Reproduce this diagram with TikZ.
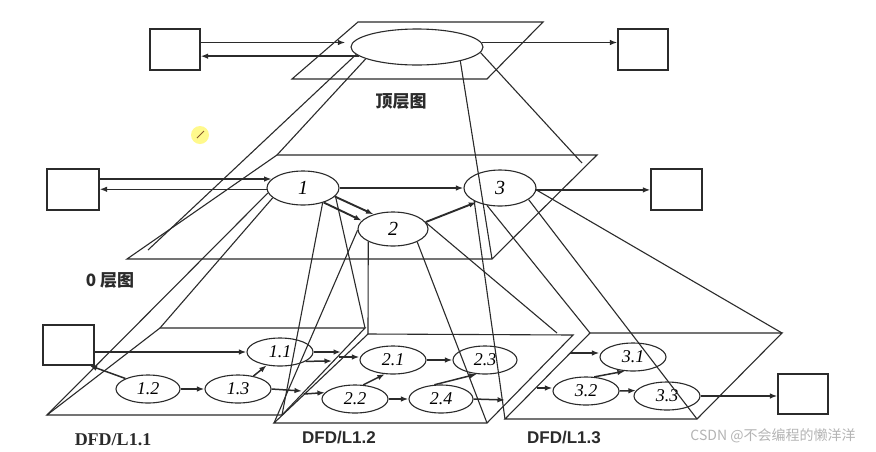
\documentclass[tikz,border=0pt]{standalone}
\usepackage{fontspec}
\setmainfont{Liberation Serif}
\newfontfamily\sansf{Liberation Sans}
\newfontfamily\cjkf{Noto Sans CJK SC}
\usetikzlibrary{shapes.geometric,arrows.meta,calc}
\definecolor{ink}{HTML}{2B2B2B}
\definecolor{wm}{HTML}{B4B4B4}
\begin{document}
\begin{tikzpicture}[x=1pt,y=-1pt,
  ln/.style={draw=ink,line width=1.1pt},
  arr/.style={draw=ink,line width=1.5pt,-{Latex[length=7.5pt,width=5.5pt]}},
  proc/.style={ellipse,draw=ink,line width=1.1pt,inner sep=0pt,font=\fontsize{18}{18}\selectfont\itshape},
  procb/.style={proc,font=\fontsize{20}{20}\selectfont\itshape},
  ent/.style={rectangle,draw=ink,line width=1.1pt,inner sep=0pt},
  cjklab/.style={font=\cjkf\bfseries\fontsize{17}{17}\selectfont,text=ink},
]
\fill[white] (0,0) rectangle (876,451);
\useasboundingbox (0,0) rectangle (876,451);

% ---------- plane corners ----------
\coordinate (P0a) at (292,79); \coordinate (P0b) at (358,22);
\coordinate (P0c) at (543,22); \coordinate (P0d) at (487,79);
\coordinate (Q1) at (277,155); \coordinate (Q2) at (597,155);
\coordinate (Q3) at (492,259); \coordinate (Q4) at (127,259);
\coordinate (N1) at (148,250); \coordinate (N2) at (582,163);
\coordinate (R1) at (160,328); \coordinate (R2) at (365,328);
\coordinate (R3) at (282,415); \coordinate (R4) at (47,415);
\coordinate (S1) at (368,334); \coordinate (S2) at (573,335);
\coordinate (S3) at (487,423); \coordinate (S4) at (274,423);
\coordinate (N3) at (557,333);
\coordinate (T1) at (590,333); \coordinate (T2) at (782,333);
\coordinate (T3) at (697,419); \coordinate (T4) at (505,419);

\draw[ln] (P0a) -- (P0b) -- (P0c) -- (P0d) -- cycle;
\draw[ln] (Q4) -- (Q1) -- (Q2) -- (Q3) -- cycle;
\draw[ln] (R4) -- (R1) -- (R2) -- (R3) -- cycle;
\draw[ln] (S4) -- (S1) -- (S2) -- (S3) -- cycle;
\draw[ln] (T4) -- (T1) -- (T2) -- (T3) -- cycle;

% ---------- processes ----------
\node[proc,minimum width=132pt,minimum height=36pt] (E0) at (417,47) {};
\node[procb,minimum width=72pt,minimum height=34pt] (E1) at (303,188) {1};
\node[procb,minimum width=70pt,minimum height=34pt] (E2) at (393,229) {2};
\node[procb,minimum width=72pt,minimum height=36pt] (E3) at (500,188) {3};
\node[proc,minimum width=66pt,minimum height=28pt] (E11) at (280,352) {1.1};
\node[proc,minimum width=64pt,minimum height=28pt] (E12) at (148,389) {1.2};
\node[proc,minimum width=66pt,minimum height=28pt] (E13) at (238,389) {1.3};
\node[proc,minimum width=66pt,minimum height=28pt] (E21) at (393,360) {2.1};
\node[proc,minimum width=66pt,minimum height=28pt] (E22) at (355,399) {2.2};
\node[proc,minimum width=64pt,minimum height=28pt] (E23) at (485,360) {2.3};
\node[proc,minimum width=64pt,minimum height=28pt] (E24) at (441,399) {2.4};
\node[proc,minimum width=66pt,minimum height=28pt] (E31) at (633,357) {3.1};
\node[proc,minimum width=66pt,minimum height=28pt] (E32) at (586,391) {3.2};
\node[proc,minimum width=66pt,minimum height=28pt] (E33) at (667,396) {3.3};

% ---------- external entities ----------
\node[ent,minimum width=50pt,minimum height=41pt] (BTL) at (175,49.5) {};
\node[ent,minimum width=50pt,minimum height=41pt] (BTR) at (643,49.5) {};
\node[ent,minimum width=52pt,minimum height=41pt] (B0L) at (73,189.5) {};
\node[ent,minimum width=51pt,minimum height=41pt] (B0R) at (676.5,189.5) {};
\node[ent,minimum width=51pt,minimum height=40pt] (B1L) at (68.5,345) {};
\node[ent,minimum width=50pt,minimum height=40pt] (B1R) at (803,394) {};

% ---------- projection lines ----------
\draw[ln] (E0.187) -- (N1);
\draw[ln] (E0.193) -- (Q1);
\draw[ln] (E0.342) -- (Q3);
\draw[ln] (E0.355) -- (N2);
\draw[ln] (E1.188) -- (R4);
\draw[ln] (E1.198) -- (R1);
\draw[ln] (E1.323) -- (R3);
\draw[ln] (E1.346) -- (R2);
\draw[ln] (E2.182) -- (S4);
\draw[ln] (E2.207) -- (S1);
\draw[ln] (E2.332) -- (S3);
\draw[ln] (E2.10) -- (N3);
\draw[ln] (E3.207) -- (T4);
\draw[ln] (E3.233) -- (T1);
\draw[ln] (E3.338) -- (T3);
\draw[ln] (E3.357) -- (T2);

% ---------- top level flows ----------
\draw[arr,shorten >=7pt] (BTL.east |- E0.176) -- (E0.176);
\draw[arr] (E0.189) -- (BTL.east |- E0.189);
\draw[arr] (E0.4) -- (E0.4 -| BTR.west);

% ---------- level 0 flows ----------
\draw[arr] (B0L.east |- E1.164) -- (E1.164);
\draw[arr] (E1.182) -- (B0L.east |- E1.182);
\draw[arr] (E1.east) -- (E3.west);
\draw[arr] (E3.357) -- (E3.357 -| B0R.west);
\draw[arr,line width=1.9pt] (E1.345) -- (E2.143);
\draw[arr,line width=1.9pt] (E1.325) -- (E2.165);
\draw[arr,line width=1.9pt] (E2.12) -- (E3.211);

% ---------- level 1 flows ----------
\coordinate (o1) at (341,352); \coordinate (o2) at (332,361);
\coordinate (i1) at (339,357);
\coordinate (o3) at (302,391); \coordinate (i2) at (304,394);
\coordinate (o4) at (505,400); \coordinate (i3) at (537,388);
\coordinate (i4) at (570,353);
\draw[arr] (B1L.east |- E11.west) -- (E11.west);
\draw[arr] (E12.155) -- ([xshift=-5pt]B1L.south east);
\draw[arr] (E12.east) -- (E13.west);
\draw[arr] (E13.40) -- (E11.225);
\draw[arr] (E11.east) -- (o1);
\draw[arr] (E11.340) -- (o2);
\draw[arr] (i1) -- (i1 -| E21.west);
\draw[arr] (E13.east) -- (o3);
\draw[arr] (i2) -- (E22.168);
\draw[arr] (E21.east) -- (E23.west);
\draw[arr] (E22.east) -- (E24.west);
\draw[arr] (E22.60) -- (E21.240);
\draw[arr] (E24.115) -- (E23.240);
\draw[arr] (E24.east) -- (o4);
\draw[arr] (i3) -- (i3 -| E32.west);
\draw[arr] (i4) -- (i4 -| E31.west);
\draw[arr] (E32.east) -- (E33.170);
\draw[arr] (E32.60) -- (E31.240);
\draw[arr] (E33.east) -- (E33.east -| B1R.west);

% ---------- labels ----------
\node[cjklab] (t0) at (401,101) {顶层图};
\node[cjklab] (t1) at (110,280) {0 层图};
\node[font=\bfseries\fontsize{18}{18}\selectfont,text=ink] (l11) at (113,440) {DFD/L1.1};
\node[font=\sansf\bfseries\fontsize{17}{17}\selectfont,text=ink] (l12) at (339,438) {DFD/L1.2};
\node[font=\sansf\bfseries\fontsize{17}{17}\selectfont,text=ink] (l13) at (564,438) {DFD/L1.3};
\node[font=\cjkf\fontsize{14}{14}\selectfont,text=wm] (wmk) at (773,436) {CSDN @不会编程的懒洋洋};

% cursor highlight
\fill[yellow!45!white] (200,135) circle (9);
\draw[brown!70!black,line width=0.8pt] (197,138) -- (204,131);
\end{tikzpicture}
\end{document}
